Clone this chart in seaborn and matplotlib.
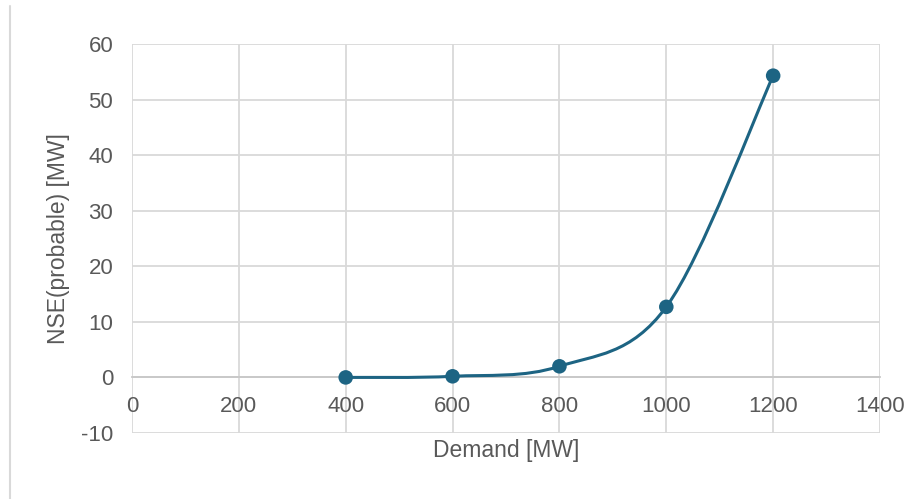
import numpy as np
import matplotlib
matplotlib.use("Agg")
import matplotlib.pyplot as plt
from matplotlib.path import Path
from matplotlib.patches import PathPatch
from matplotlib.lines import Line2D
import seaborn as sns
import pandas as pd

# Expected non-served energy versus demand
demand_mw = [400, 600, 800, 1000, 1200]
nse_mw = [0.0, 0.2, 2.0, 12.7, 54.3]

x_ticks = [0, 200, 400, 600, 800, 1000, 1200, 1400]
y_ticks = [-10, 0, 10, 20, 30, 40, 50, 60]

x_label = "Demand [MW]"
y_label = "NSE(probable) [MW]"

line_color = "#1d6483"
grid_color = "#d9d9d9"
text_color = "#595959"

sns.set_theme(style="white")
plt.rcParams["font.family"] = ["Liberation Sans", "DejaVu Sans"]

df = pd.DataFrame({"demand": demand_mw, "nse": nse_mw})

fig = plt.figure(figsize=(9.19, 4.99), dpi=100)
ax = fig.add_axes([0.1436, 0.1323, 0.814, 0.7795])


def smooth_path(xs, ys):
    """Cubic Bezier path through the points (Catmull-Rom style smoothing)."""
    pts = np.column_stack([xs, ys]).astype(float)
    n = len(pts)
    verts = [pts[0]]
    codes = [Path.MOVETO]
    for i in range(n - 1):
        p_prev = pts[i - 1] if i > 0 else pts[i]
        p0 = pts[i]
        p1 = pts[i + 1]
        p_next = pts[i + 2] if i + 2 < n else pts[i + 1]
        c1 = p0 + (p1 - p_prev) / 6.0
        c2 = p1 - (p_next - p0) / 6.0
        verts += [c1, c2, p1]
        codes += [Path.CURVE4] * 3
    return Path(verts, codes)


curve = PathPatch(smooth_path(df["demand"], df["nse"]), facecolor="none",
                  edgecolor=line_color, linewidth=2.2, capstyle="round",
                  joinstyle="round", zorder=3)
ax.add_patch(curve)

sns.scatterplot(data=df, x="demand", y="nse", ax=ax, color=line_color,
                s=110, edgecolor="none", zorder=4, legend=False)

ax.set_xlim(x_ticks[0], x_ticks[-1])
ax.set_ylim(y_ticks[0], y_ticks[-1])
ax.set_xticks(x_ticks)
ax.set_yticks(y_ticks)
ax.set_xticklabels([str(v) for v in x_ticks])
ax.set_yticklabels([str(v) for v in y_ticks])

ax.grid(True, color=grid_color, linewidth=1.3, zorder=0)
ax.set_axisbelow(True)

for side in ["top", "right", "left"]:
    ax.spines[side].set_visible(False)
ax.spines["bottom"].set_position(("data", 0))
ax.spines["bottom"].set_color("#c8c8c8")
ax.spines["bottom"].set_linewidth(1.3)
ax.spines["bottom"].set_zorder(1)

ax.tick_params(axis="x", length=0, pad=13.5, labelsize=16, labelcolor=text_color)
ax.tick_params(axis="y", length=0, pad=13.5, labelsize=16, labelcolor=text_color)

ax.set_xlabel(x_label, fontsize=16.5, color=text_color)
ax.set_ylabel(y_label, fontsize=16.5, color=text_color)
ax.xaxis.set_label_coords(0.5, -0.015)
ax.yaxis.set_label_coords(-0.083, 0.5)

# thin frame line along the left edge of the figure
fig.add_artist(Line2D([9.5 / 919, 9.5 / 919], [0, 1 - 6 / 499],
                      transform=fig.transFigure, color=grid_color, linewidth=1.5))

fig.savefig("out.png", dpi=100, facecolor="white")
